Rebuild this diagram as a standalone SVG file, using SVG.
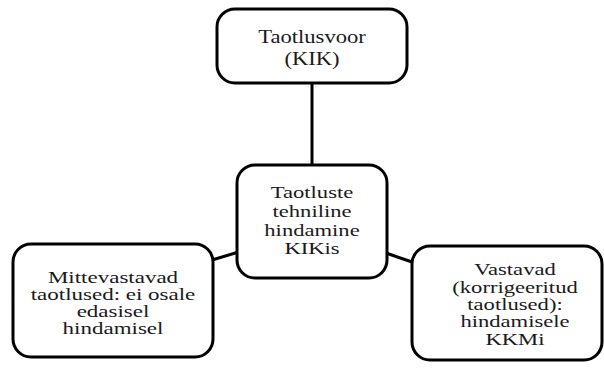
<svg xmlns="http://www.w3.org/2000/svg" width="604" height="369" viewBox="0 0 604 369">
  <style>
    .box { fill: #ffffff; stroke: #000000; stroke-width: 3; }
    .conn { fill: none; stroke: #000000; stroke-width: 3; }
    .lbl { font-size: 20px; fill: #1a1a1a; text-anchor: middle; }
  </style>
  <rect width="604" height="369" fill="#ffffff"/>
  <g id="connectors">
    <line class="conn" x1="312" y1="83" x2="312" y2="165"/>
    <line class="conn" x1="212" y1="260" x2="237" y2="252.5"/>
    <line class="conn" x1="386" y1="253" x2="412" y2="262"/>
  </g>
  <g id="node-taotlusvoor">
    <rect class="box" x="217" y="9" width="190" height="74" rx="18"/>
    <g class="lbl" font-family="Liberation Serif, Times New Roman, Times, DejaVu Serif, Noto Serif, serif" transform="translate(312 43) scale(1.13 0.9)">
      <text x="0" y="0">Taotlusvoor</text>
      <text x="0" y="24.4">(KIK)</text>
    </g>
  </g>
  <g id="node-tehniline">
    <rect class="box" x="237" y="165" width="150" height="113" rx="18"/>
    <g class="lbl" font-family="Liberation Serif, Times New Roman, Times, DejaVu Serif, Noto Serif, serif" transform="translate(312 198) scale(1.13 0.88)">
      <text x="0" y="0">Taotluste</text>
      <text x="0" y="21.6">tehniline</text>
      <text x="0" y="43.2">hindamine</text>
      <text x="0" y="63.6">KIKis</text>
    </g>
  </g>
  <g id="node-mittevastavad">
    <rect class="box" x="13" y="244" width="200" height="113" rx="18"/>
    <g class="lbl" font-family="Liberation Serif, Times New Roman, Times, DejaVu Serif, Noto Serif, serif" transform="translate(113 283) scale(1.15 0.81)">
      <text x="0" y="0">Mittevastavad</text>
      <text x="0" y="21.5">taotlused: ei osale</text>
      <text x="0" y="42">edasisel</text>
      <text x="0" y="63">hindamisel</text>
    </g>
  </g>
  <g id="node-vastavad">
    <rect class="box" x="412" y="246" width="190" height="114" rx="18"/>
    <g class="lbl" font-family="Liberation Serif, Times New Roman, Times, DejaVu Serif, Noto Serif, serif" transform="translate(515 275) scale(1.13 0.81)">
      <text x="0" y="0">Vastavad</text>
      <text x="0" y="22.2">(korrigeeritud</text>
      <text x="0" y="43.8">taotlused):</text>
      <text x="0" y="64.8">hindamisele</text>
      <text x="0" y="86.4">KKMi</text>
    </g>
  </g>
</svg>
